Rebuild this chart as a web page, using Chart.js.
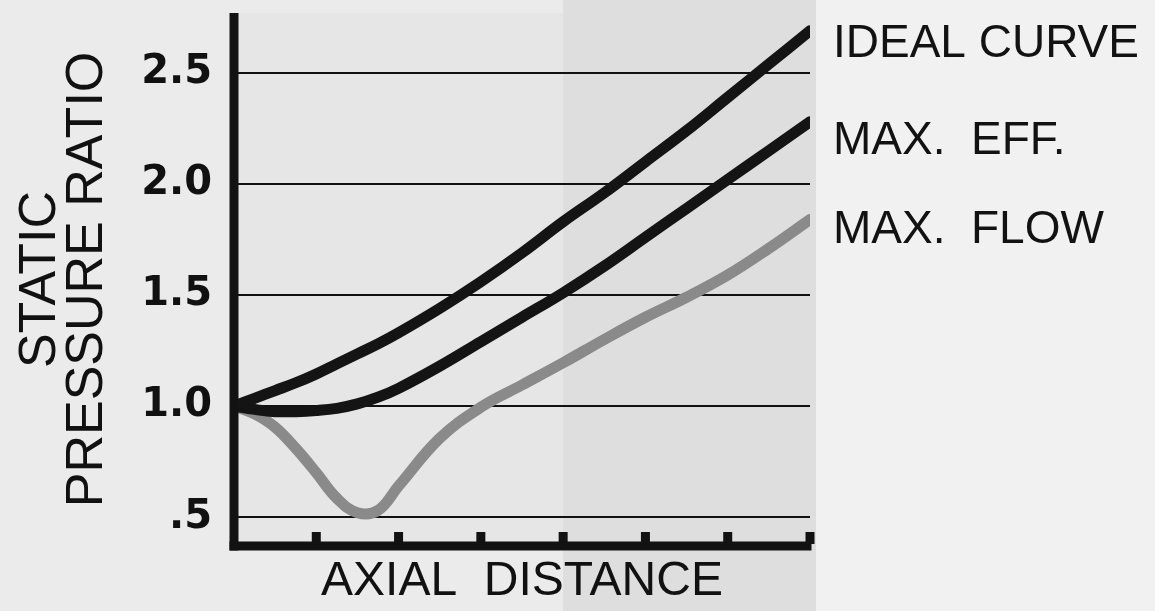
<!DOCTYPE html>
<html>
<head>
<meta charset="utf-8">
<script src="https://cdn.jsdelivr.net/npm/chart.js@4"></script>
<style>
  html, body { margin: 0; padding: 0; background: #ebebeb; }
  #wrap { width: 1155px; height: 611px; }
</style>
</head>
<body>
<div id="wrap"><canvas id="myChart" width="1155" height="611"></canvas></div>
<script>
// axial distance positions (arbitrary units, one per tick mark)
const axialPos = [0, 0.25, 0.5, 0.75, 1, 1.25, 1.5, 1.75, 2, 2.5, 3, 3.5, 4, 4.5, 5, 5.5, 6, 6.5, 7];
const idealCurve = [1.00, 1.035, 1.07, 1.105, 1.145, 1.19, 1.235, 1.28, 1.33, 1.44, 1.56, 1.69, 1.83, 1.96, 2.10, 2.24, 2.39, 2.54, 2.69];
const maxEff     = [1.00, 0.985, 0.975, 0.975, 0.98, 0.99, 1.01, 1.04, 1.08, 1.18, 1.29, 1.40, 1.51, 1.63, 1.76, 1.89, 2.02, 2.15, 2.28];
const maxFlow    = [1.00, 0.965, 0.905, 0.81, 0.70, 0.585, 0.52, 0.53, 0.64, 0.855, 0.995, 1.095, 1.195, 1.30, 1.40, 1.49, 1.59, 1.71, 1.84];
const yTicks = [0.5, 1.0, 1.5, 2.0, 2.5];
const xTickMarks = [1, 2, 3, 4, 5, 6, 7];
const seriesNames = ['IDEAL CURVE', 'MAX.  EFF.', 'MAX.  FLOW'];
const labelLevels = [2.63, 2.19, 1.79]; // where the labels sit, in pressure-ratio units

function pts(vals) {
    return axialPos.map((x, i) => ({x: x, y: vals[i]}));
}

// paper background, axes, tick marks and the curve labels
const decor = {
    id: 'decor',
    beforeDraw(chart) {
        const c = chart.ctx, a = chart.chartArea, xs = chart.scales.x;
        c.save();
        c.fillStyle = '#ebebeb';
        c.fillRect(0, 0, chart.width, chart.height);
        c.fillStyle = '#e6e6e6';
        c.fillRect(a.left, a.top, a.right - a.left, a.bottom - a.top);
        c.fillStyle = '#dedede';
        let xs4 = xs.getPixelForValue(4);
        c.fillRect(xs4, 0, a.right + 6 - xs4, chart.height);
        c.fillStyle = '#f1f1f1';
        c.fillRect(a.right + 6, 0, chart.width - a.right, chart.height);
        c.restore();
    },
    afterDraw(chart) {
        const c = chart.ctx, a = chart.chartArea, xs = chart.scales.x, ys = chart.scales.y;
        c.save();
        c.fillStyle = '#121212';
        c.fillRect(a.left - 4.5, a.top, 9, a.bottom - a.top + 4.5);
        c.fillRect(a.left - 4.5, a.bottom - 4.5, a.right - a.left + 6, 9);
        xTickMarks.forEach(t => {
            let px = xs.getPixelForValue(t);
            c.fillRect(px - 4.5, a.bottom - 14, 9, 12);
        });
        c.font = '46px "Liberation Sans", Arial, sans-serif';
        c.textBaseline = 'middle';
        c.textAlign = 'left';
        seriesNames.forEach((s, i) => {
            c.fillText(s, a.right + 23, ys.getPixelForValue(labelLevels[i]));
        });
        c.restore();
    }
};

let ctx = document.getElementById('myChart').getContext('2d');
let myChart = new Chart(ctx, {
    type: 'line',
    data: {
        datasets: [
            {label: seriesNames[0], data: pts(idealCurve), borderColor: '#141414'},
            {label: seriesNames[1], data: pts(maxEff), borderColor: '#141414'},
            {label: seriesNames[2], data: pts(maxFlow), borderColor: '#8a8a8a'}
        ]
    },
    options: {
        responsive: false,
        animation: false,
        layout: {padding: {top: 13, right: 345, left: 0, bottom: 0}},
        elements: {
            point: {radius: 0},
            line: {borderWidth: 11, tension: 0.4, fill: false, borderCapStyle: 'round'}
        },
        plugins: {legend: {display: false}, tooltip: {enabled: false}},
        scales: {
            x: {
                type: 'linear', min: 0, max: 7,
                grid: {display: false},
                border: {display: false},
                ticks: {display: false},
                title: {
                    display: true, text: 'AXIAL  DISTANCE', color: '#111',
                    font: {family: '"Liberation Sans", Arial, sans-serif', size: 48}, padding: 0
                },
                afterFit: s => { s.height = 65; s.paddingLeft = 0; s.paddingRight = 0; }
            },
            y: {
                min: 0.37, max: 2.77,
                afterBuildTicks: s => { s.ticks = yTicks.map(v => ({value: v})); },
                grid: {color: '#111', lineWidth: 2, drawTicks: false},
                border: {display: false},
                ticks: {
                    padding: 22, color: '#111',
                    font: {family: '"DejaVu Sans", sans-serif', size: 40, weight: 'bold'},
                    callback: v => v < 1 ? '.5' : v.toFixed(1)
                },
                title: {
                    display: true, text: ['STATIC', 'PRESSURE RATIO'], color: '#111',
                    font: {family: '"Liberation Sans", Arial, sans-serif', size: 52, lineHeight: 0.9},
                    padding: {top: 17, bottom: 0}
                },
                afterFit: s => { s.width = 234; s.paddingTop = 0; s.paddingBottom = 0; }
            }
        }
    },
    plugins: [decor]
});
</script>
</body>
</html>
